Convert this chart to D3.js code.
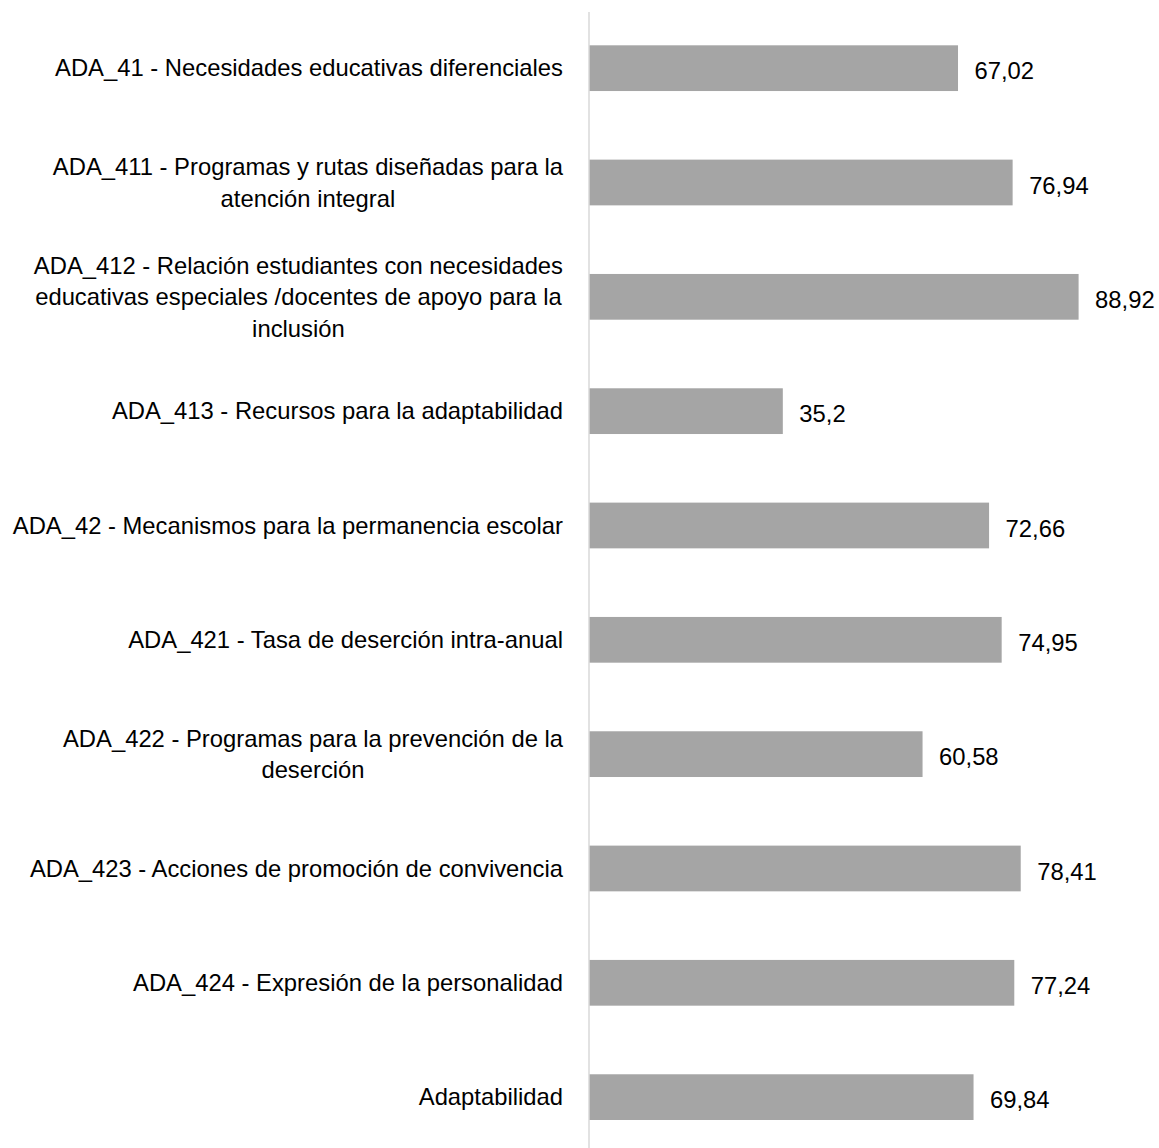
<!DOCTYPE html>
<html><head><meta charset="utf-8">
<script src="https://cdn.jsdelivr.net/npm/d3@7"></script>
<style>body{margin:0;background:#fff}svg{display:block}text{font-family:"Liberation Sans",Arial,Helvetica,sans-serif}</style>
</head><body>
<svg id="c" width="1159" height="1148"></svg>
<script>
const categories = [
  "ADA_41 - Necesidades educativas diferenciales",
  "ADA_411 - Programas y rutas diseñadas para la atención integral",
  "ADA_412 - Relación estudiantes con necesidades educativas especiales /docentes de apoyo para la inclusión",
  "ADA_413 - Recursos para la adaptabilidad",
  "ADA_42 - Mecanismos para la permanencia escolar",
  "ADA_421 - Tasa de deserción intra-anual",
  "ADA_422 - Programas para la prevención de la deserción",
  "ADA_423 - Acciones de promoción de convivencia",
  "ADA_424 - Expresión de la personalidad",
  "Adaptabilidad"
];
const labelLines = [
  ["ADA_41 - Necesidades educativas diferenciales"],
  ["ADA_411 - Programas y rutas diseñadas para la", "atención integral"],
  ["ADA_412 - Relación estudiantes con necesidades", "educativas especiales /docentes de apoyo para la", "inclusión"],
  ["ADA_413 - Recursos para la adaptabilidad"],
  ["ADA_42 - Mecanismos para la permanencia escolar"],
  ["ADA_421 - Tasa de deserción intra-anual"],
  ["ADA_422 - Programas para la prevención de la", "deserción"],
  ["ADA_423 - Acciones de promoción de convivencia"],
  ["ADA_424 - Expresión de la personalidad"],
  ["Adaptabilidad"]
];
const values = [67.02, 76.94, 88.92, 35.2, 72.66, 74.95, 60.58, 78.41, 77.24, 69.84];
const valueLabels = ["67,02", "76,94", "88,92", "35,2", "72,66", "74,95", "60,58", "78,41", "77,24", "69,84"];

const svg = d3.select("#c");
const axisX = 589;
const x = d3.scaleLinear().domain([0, 100]).range([axisX, axisX + 550.6]);
const y = d3.scaleBand().domain(categories).range([11, 1154.3]).paddingInner(0.6).paddingOuter(0.3);

const fs = 23.8, lh = 31.5;

svg.append("g").selectAll("rect").data(values).join("rect")
  .attr("x", x(0))
  .attr("y", (d, i) => y(categories[i]))
  .attr("width", d => x(d) - x(0))
  .attr("height", y.bandwidth())
  .attr("fill", "#a5a5a5");

svg.append("line").attr("x1", axisX).attr("x2", axisX).attr("y1", 12).attr("y2", 1148)
  .attr("stroke", "#d9d9d9").attr("stroke-width", 1.5);

svg.append("g").selectAll("text").data(values).join("text")
  .attr("x", d => x(d) + 16.5)
  .attr("y", (d, i) => y(categories[i]) + y.bandwidth() / 2 + 3)
  .attr("dy", "0.35em")
  .attr("font-size", fs)
  .attr("fill", "#000")
  .text((d, i) => valueLabels[i]);

const lg = svg.append("g");
categories.forEach((c, i) => {
  const lines = labelLines[i];
  const cy = y(c) + y.bandwidth() / 2;
  const t = lg.append("text").attr("font-size", fs).attr("fill", "#000").attr("text-anchor", "middle");
  const spans = lines.map((l, j) => t.append("tspan").text(l)
    .attr("y", cy + (j - (lines.length - 1) / 2) * lh).attr("dy", "0.35em"));
  const w = d3.max(spans, s => s.node().getComputedTextLength());
  const right = axisX - 26;
  spans.forEach(s => s.attr("x", right - w / 2));
});
</script>
</body></html>
